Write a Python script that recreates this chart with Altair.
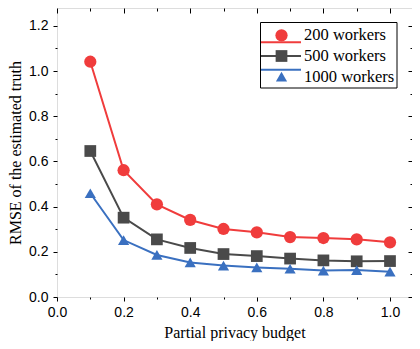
import altair as alt
import pandas as pd

budget = [0.1, 0.2, 0.3, 0.4, 0.5, 0.6, 0.7, 0.8, 0.9, 1.0]
series_names = ["200 workers", "500 workers", "1000 workers"]
rmse_200 = [1.041, 0.561, 0.410, 0.341, 0.301, 0.286, 0.265, 0.261, 0.255, 0.242]
rmse_500 = [0.646, 0.351, 0.255, 0.217, 0.190, 0.181, 0.170, 0.162, 0.158, 0.159]
rmse_1000 = [0.459, 0.252, 0.186, 0.153, 0.139, 0.131, 0.125, 0.117, 0.119, 0.112]
colors = ["#F03C3C", "#4A4A4A", "#3A70C0"]
shapes = ["circle", "square", "triangle-up"]
sizes = [150, 125, 200]

x_major = [0.0, 0.2, 0.4, 0.6, 0.8, 1.0]
x_minor = [0.1, 0.3, 0.5, 0.7, 0.9]
y_major = [0.0, 0.2, 0.4, 0.6, 0.8, 1.0, 1.2]
y_minor = [0.1, 0.3, 0.5, 0.7, 0.9, 1.1]

rows = []
for name, vals in zip(series_names, [rmse_200, rmse_500, rmse_1000]):
    for b, v in zip(budget, vals):
        rows.append({"budget": b, "rmse": v, "series": name})
df = pd.DataFrame(rows)
leg_df = pd.DataFrame({"series": series_names})
box_df = pd.DataFrame({"k": [0]})

W, H = 355, 289
XDOM = [0, W / 333.0]
YDOM = [0, H / 226.0]
SANS = "Liberation Sans"
SERIF = "Liberation Serif"

xs = alt.Scale(domain=XDOM, nice=False, zero=False)
ys = alt.Scale(domain=YDOM, nice=False, zero=False)
cscale = alt.Scale(domain=series_names, range=colors)
sscale = alt.Scale(domain=series_names, range=shapes)
zscale = alt.Scale(domain=series_names, range=sizes)

base = alt.Chart(df)

lines = base.mark_line(strokeWidth=2).encode(
    x=alt.X("budget:Q", scale=xs,
            axis=alt.Axis(orient="bottom", values=x_major, format=".1f", tickSize=4,
                          labelFont=SANS, labelFontSize=14, labelColor="black",
                          labelPadding=4, labelFlush=False, domain=False,
                          tickColor="black", grid=False,
                          title="Partial privacy budget", titleFont=SERIF,
                          titleFontSize=16, titleFontWeight="normal",
                          titleColor="black", titlePadding=5)),
    y=alt.Y("rmse:Q", scale=ys,
            axis=alt.Axis(orient="left", values=y_major, format=".1f", tickSize=4,
                          labelFont=SANS, labelFontSize=14, labelColor="black",
                          labelPadding=5, labelFlush=False, domain=False,
                          tickColor="black", grid=False,
                          title="RMSE of the estimated truth", titleFont=SERIF,
                          titleFontSize=16, titleFontWeight="normal",
                          titleColor="black", titlePadding=5)),
    color=alt.Color("series:N", scale=cscale, legend=None),
    detail="series:N",
)

points = base.mark_point(filled=True, opacity=1).encode(
    x=alt.X("budget:Q", scale=xs, axis=None),
    y=alt.Y("rmse:Q", scale=ys, axis=None),
    color=alt.Color("series:N", scale=cscale, legend=None),
    shape=alt.Shape("series:N", scale=sscale, legend=None),
    size=alt.Size("series:N", scale=zscale, legend=None),
)


def tick_layer(xorient, xvals, xsize, xoff, yorient, yvals, ysize, yoff):
    return base.mark_point(opacity=0).encode(
        x=alt.X("budget:Q", scale=xs,
                axis=alt.Axis(orient=xorient, values=xvals, tickSize=xsize, offset=xoff,
                              labels=False, domain=False, grid=False, title=None,
                              tickColor="black")),
        y=alt.Y("rmse:Q", scale=ys,
                axis=alt.Axis(orient=yorient, values=yvals, tickSize=ysize, offset=yoff,
                              labels=False, domain=False, grid=False, title=None,
                              tickColor="black")),
    )


minor_bl = tick_layer("bottom", x_minor, 2, 0, "left", y_minor, 2, 0)
major_tr = tick_layer("top", x_major, 5, -5, "right", y_major, 4, -4)
minor_tr = tick_layer("top", x_minor, 3, -3, "right", y_minor, 2, -2)

# legend rows (pixel positions inside the plot area)
leg_y = alt.Y("series:N", scale=alt.Scale(domain=series_names, range=[27.3, 68.7], padding=0),
              axis=None)

leg_box = alt.Chart(box_df).mark_rect(fill="white", stroke="black", strokeWidth=1).encode(
    x=alt.value(203.5), x2=alt.value(340), y=alt.value(14.5), y2=alt.value(80)
)
leg_lines = alt.Chart(leg_df).mark_rule(strokeWidth=2).encode(
    x=alt.value(204), x2=alt.value(244), y=leg_y,
    color=alt.Color("series:N", scale=cscale, legend=None),
)
leg_pts = alt.Chart(leg_df).mark_point(filled=True, opacity=1).encode(
    x=alt.value(224.5), y=leg_y,
    color=alt.Color("series:N", scale=cscale, legend=None),
    shape=alt.Shape("series:N", scale=sscale, legend=None),
    size=alt.Size("series:N", scale=zscale, legend=None),
)
leg_text = alt.Chart(leg_df).mark_text(
    align="left", baseline="middle", font=SERIF, fontSize=16.5, color="black"
).encode(x=alt.value(247), y=leg_y, text="series:N")

chart = alt.layer(
    lines, points, minor_bl, major_tr, minor_tr, leg_box, leg_lines, leg_pts, leg_text
).resolve_scale(
    x="independent", y="independent"
).resolve_axis(
    x="independent", y="independent"
).properties(
    width=W, height=H,
    autosize=alt.AutoSizeParams(type="none"),
    padding={"left": 49, "top": 0, "right": 0, "bottom": 44},
).configure_view(
    stroke="black", strokeWidth=1
).configure(background="white")

chart.save("out.html", embed_options={"renderer": "svg", "actions": False})
